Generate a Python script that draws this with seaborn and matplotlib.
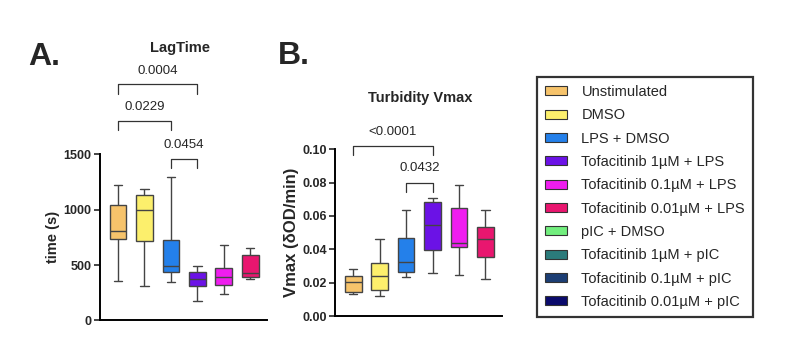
import numpy as np
import pandas as pd
import seaborn as sns
import matplotlib.pyplot as plt
from matplotlib.patches import Patch

# groups in the legend (the last four are not plotted)
groups = ["Unstimulated", "DMSO", "LPS + DMSO", "Tofacitinib 1µM + LPS",
          "Tofacitinib 0.1µM + LPS", "Tofacitinib 0.01µM + LPS", "pIC + DMSO",
          "Tofacitinib 1µM + pIC", "Tofacitinib 0.1µM + pIC", "Tofacitinib 0.01µM + pIC"]
colors = ["#F6C36B", "#FCEF6C", "#2480EA", "#6B12E6", "#EF1DEF", "#E9166F",
          "#72EE7E", "#2B7B7B", "#1C3E74", "#0A0A6C"]
plotted = groups[:6]

# LagTime (s): min, q1, median, q3, max per box
lag_low = [354, 315, 351, 177, 240, 372]
lag_q1 = [730, 712, 435, 309, 318, 393]
lag_med = [808, 1000, 492, 372, 390, 429]
lag_q3 = [1045, 1129, 724, 435, 477, 589]
lag_high = [1225, 1186, 1291, 489, 676, 649]

# Turbidity Vmax (dOD/min)
vmax_low = [0.0134, 0.0120, 0.0234, 0.0256, 0.0246, 0.0220]
vmax_q1 = [0.0144, 0.0156, 0.0266, 0.0396, 0.0412, 0.0354]
vmax_med = [0.0204, 0.0240, 0.0322, 0.0546, 0.0440, 0.0462]
vmax_q3 = [0.0242, 0.0316, 0.0468, 0.0684, 0.0650, 0.0534]
vmax_high = [0.0284, 0.0460, 0.0634, 0.0710, 0.0788, 0.0634]

# comparisons: (group a, group b, p value)
lag_pairs = [(2, 3, "0.0454"), (0, 2, "0.0229"), (0, 3, "0.0004")]
vmax_pairs = [(2, 3, "0.0432"), (0, 3, "<0.0001")]


def five_num(lo, q1, med, q3, hi):
    rows = []
    for g, vals in zip(plotted, zip(lo, q1, med, q3, hi)):
        for v in vals:
            rows.append({"group": g, "value": v})
    return pd.DataFrame(rows)


lag = five_num(lag_low, lag_q1, lag_med, lag_q3, lag_high)
vmax = five_num(vmax_low, vmax_q1, vmax_med, vmax_q3, vmax_high)

sns.set_style("ticks")
plt.rcParams['font.family'] = ['Liberation Sans', 'DejaVu Sans']

fig = plt.figure(figsize=(8, 3.51), dpi=100)
ax1 = fig.add_axes([0.125, 0.087, 0.209, 0.474])
ax2 = fig.add_axes([0.419, 0.0997, 0.209, 0.475])

pal = dict(zip(groups, colors))
for ax, df in [(ax1, lag), (ax2, vmax)]:
    sns.boxplot(data=df, x="group", y="value", hue="group", palette=pal, order=plotted,
                whis=(0, 100), width=0.63, linewidth=1, linecolor="#444444",
                saturation=1, legend=False, ax=ax)
    ax.set_xlim(-0.68, 5.64)
    ax.set_xticks([])
    ax.set_xlabel("")
    sns.despine(ax=ax)
    for s in ["left", "bottom"]:
        ax.spines[s].set_linewidth(1.4)
        ax.spines[s].set_color("black")
    ax.tick_params(axis="y", length=4.5, width=1.2, labelsize=9, pad=1.5)

ax1.set_ylim(0, 1500)
ax1.set_yticks([0, 500, 1000, 1500])
ax1.set_yticklabels(["0", "500", "1000", "1500"], fontweight="bold")
ax1.set_ylabel("time (s)", fontsize=10.5, fontweight="bold", labelpad=3)

ax2.set_ylim(0, 0.10)
ax2.set_yticks(np.arange(0, 0.101, 0.02))
ax2.set_yticklabels([f"{v:.2f}" for v in np.arange(0, 0.101, 0.02)], fontweight="bold")
ax2.set_ylabel("Vmax (δOD/min)", fontsize=12, fontweight="bold", labelpad=2)


def bracket(ax, a, b, y, leg, label, gap):
    ax.plot([a, a, b, b], [y - leg, y, y, y - leg], color="#333333", lw=0.9, clip_on=False)
    ax.text((a + b) / 2, y + gap, label, ha="center", va="center", fontsize=9.5, clip_on=False)


for (a, b, p), y in zip(lag_pairs, [1459, 1802, 2128]):
    bracket(ax1, a, b, y, 84, p, 120)
for (a, b, p), y in zip(vmax_pairs, [0.080, 0.102]):
    bracket(ax2, a, b, y, 0.0054, p, 0.0085)

fig.text(180 / 800, 1 - 48 / 351, "LagTime", ha="center", va="center", fontsize=10.5, fontweight="bold")
fig.text(420 / 800, 1 - 98 / 351, "Turbidity Vmax", ha="center", va="center", fontsize=10.5, fontweight="bold")
fig.text(28 / 800, 1 - 57 / 351, "A.", ha="left", va="center", fontsize=23, fontweight="bold")
fig.text(278 / 800, 1 - 56 / 351, "B.", ha="left", va="center", fontsize=23, fontweight="bold")

handles = [Patch(facecolor=c, edgecolor="#333333", linewidth=0.8, label=g)
           for g, c in zip(groups, colors)]
leg = fig.legend(handles=handles, loc="upper left", bbox_to_anchor=(537 / 800, 1 - 77 / 351),
                 fontsize=10.5, frameon=True, fancybox=False, edgecolor="black",
                 handlelength=1.5, handleheight=0.55, handletextpad=1.0,
                 labelspacing=0.64, borderpad=0.55, borderaxespad=0)
leg.get_frame().set_linewidth(1.6)

fig.savefig("out.png", dpi=100)
